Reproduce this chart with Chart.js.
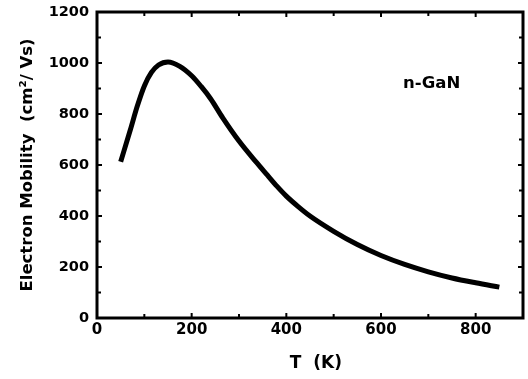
<!DOCTYPE html>
<html>
<head>
<meta charset="utf-8">
<script src="https://cdn.jsdelivr.net/npm/chart.js@4/dist/chart.umd.min.js"></script>
<style>
  html, body { margin: 0; padding: 0; background: #fff; }
  canvas { display: block; }
</style>
</head>
<body>
<canvas id="c" width="528" height="379"></canvas>
<script>
// Data
const temperatureK = [50, 70, 85, 100, 115, 130, 150, 175, 200, 220, 240, 266, 300, 336, 360, 380, 400, 425, 450, 500, 550, 600, 650, 700, 750, 800, 850];
const mobility =     [613, 735, 830, 910, 963, 992, 1004, 987, 950, 908, 860, 784, 694, 612, 560, 517, 478, 437, 400, 340, 288, 245, 210, 181, 157, 138, 121];

const xTickValues = [0, 200, 400, 600, 800];
const xMinorValues = [100, 300, 500, 700];
const yTickValues = [0, 200, 400, 600, 800, 1000, 1200];
const yMinorValues = [100, 300, 500, 700, 900, 1100];
const xTitle = "  T  (K)";
const yTitle = "Electron Mobility  (cm\u00B2/ Vs)";
const annotationText = "n-GaN";
const annotationAt = { x: 707, y: 918 };

const FONT = "'DejaVu Sans', sans-serif";

const framePlugin = {
  id: 'frame',
  afterDatasetsDraw(chart) {
    const { ctx, chartArea: a, scales } = chart;
    const xs = scales.x, ys = scales.y;
    ctx.save();
    ctx.strokeStyle = '#000';
    ctx.lineWidth = 2;
    ctx.lineCap = 'butt';
    const drawX = (vals, len) => {
      vals.forEach(v => {
        const px = xs.getPixelForValue(v);
        ctx.beginPath();
        ctx.moveTo(px, a.bottom); ctx.lineTo(px, a.bottom - len);
        ctx.moveTo(px, a.top); ctx.lineTo(px, a.top + len);
        ctx.stroke();
      });
    };
    const drawY = (vals, len) => {
      vals.forEach(v => {
        const py = ys.getPixelForValue(v);
        ctx.beginPath();
        ctx.moveTo(a.left, py); ctx.lineTo(a.left + len, py);
        ctx.moveTo(a.right, py); ctx.lineTo(a.right - len, py);
        ctx.stroke();
      });
    };
    drawX(xTickValues, 5); drawX(xMinorValues, 4);
    drawY(yTickValues, 5); drawY(yMinorValues, 4);
    ctx.lineWidth = 3;
    ctx.strokeRect(a.left, a.top, a.right - a.left, a.bottom - a.top);
    // annotation
    ctx.fillStyle = '#000';
    ctx.font = "bold 16.5px " + FONT;
    ctx.textAlign = 'center';
    ctx.textBaseline = 'middle';
    ctx.fillText(annotationText, xs.getPixelForValue(annotationAt.x), ys.getPixelForValue(annotationAt.y));
    ctx.restore();
  }
};

new Chart(document.getElementById('c'), {
  type: 'line',
  data: {
    datasets: [{
      data: temperatureK.map((t, i) => ({ x: t, y: mobility[i] })),
      borderColor: '#000',
      borderWidth: 5,
      pointRadius: 0,
      cubicInterpolationMode: 'monotone',
      fill: false
    }]
  },
  options: {
    responsive: false,
    devicePixelRatio: 1,
    animation: false,
    layout: { padding: { left: 0, right: 5, top: 12, bottom: 0 } },
    plugins: { legend: { display: false }, tooltip: { enabled: false } },
    scales: {
      x: {
        type: 'linear',
        min: 0, max: 900,
        grid: { display: false, drawTicks: false },
        border: { display: false },
        afterBuildTicks: s => { s.ticks = xTickValues.map(v => ({ value: v })); },
        afterFit: s => { s.height = 61; },
        ticks: { color: '#000', padding: 3, maxRotation: 0, callback: v => String(v), font: { family: FONT, weight: 'bold', size: 15 } },
        title: { display: true, text: xTitle, color: '#000', padding: { top: 0, bottom: 5 }, font: { family: FONT, weight: 'bold', size: 17 } }
      },
      y: {
        type: 'linear',
        min: 0, max: 1200,
        grid: { display: false, drawTicks: false },
        border: { display: false },
        afterBuildTicks: s => { s.ticks = yTickValues.map(v => ({ value: v })); },
        afterFit: s => { s.width = 97; },
        ticks: { color: '#000', padding: 8, callback: v => String(v), font: { family: FONT, weight: 'bold', size: 14.5, lineHeight: 0.5 } },
        title: { display: true, text: yTitle, color: '#000', padding: { top: 18, bottom: 0 }, font: { family: FONT, weight: 'bold', size: 16.5 } }
      }
    }
  },
  plugins: [framePlugin]
});
</script>
</body>
</html>
